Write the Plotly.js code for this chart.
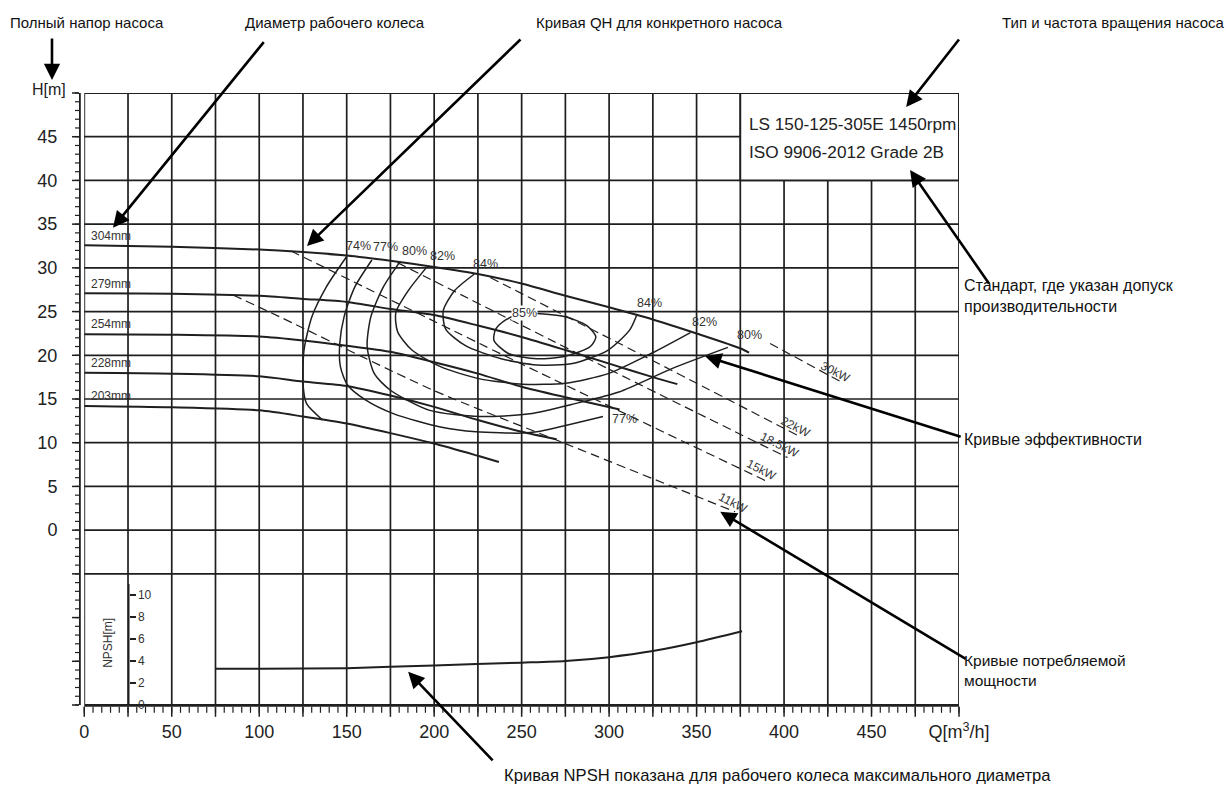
<!DOCTYPE html>
<html><head><meta charset="utf-8">
<script src="https://cdn.plot.ly/plotly-3.0.1.min.js"></script>
<style>
html,body{margin:0;padding:0;background:#fff}#chart{width:1228px;height:793px}
#chart .gridlayer path, #chart .shapelayer path, #chart .xlines-above, #chart .ylines-above, #chart .xtick, #chart .ytick {shape-rendering: geometricPrecision !important;}
</style>
</head><body><div id="chart"></div>
<script>
// ---------- QH curves (Q in m3/h, H in m) ----------
const q304 = [0, 50, 100, 125, 150, 175, 200, 225, 250, 275, 300, 325, 350, 375, 380];
const h304 = [32.6, 32.4, 32.1, 31.8, 31.4, 30.8, 30.1, 29.3, 28.2, 26.8, 25.5, 24.1, 22.5, 20.8, 20.3];
const q279 = [0, 50, 100, 125, 150, 175, 200, 225, 250, 275, 300, 325, 339];
const h279 = [27.1, 27.05, 26.8, 26.45, 26.1, 25.3, 24.6, 23.4, 22.1, 20.6, 19.05, 17.5, 16.7];
const q254 = [0, 50, 100, 125, 150, 175, 200, 225, 250, 275, 306];
const h254 = [22.4, 22.35, 22.15, 21.7, 21.1, 20.4, 19.2, 17.9, 16.4, 15.2, 13.8];
const q228 = [0, 50, 100, 125, 150, 175, 200, 225, 250, 270];
const h228 = [18.0, 17.9, 17.6, 17.0, 16.5, 15.4, 14.1, 12.6, 11.25, 10.4];
const q203 = [0, 50, 100, 125, 150, 175, 200, 225, 237];
const h203 = [14.2, 14.05, 13.7, 13.0, 12.2, 11.1, 9.9, 8.5, 7.8];

const diameterLabels = ['304mm', '279mm', '254mm', '228mm', '203mm'];
const diameterLabelH = [33.6, 28.1, 23.6, 19.1, 15.4];

// ---------- efficiency contours ----------
const eff74q = [150, 138.3, 130.1, 125.6, 125, 127, 136.2];
const eff74h = [31.3, 27.8, 24.4, 20.6, 16.8, 14.5, 12.6];
const eff77q = [164.4, 154.6, 148.5, 146, 146.4, 150.5, 160.7, 177, 203.6, 224, 250.5, 258.7, 296.5];
const eff77h = [30.9, 27.8, 24.4, 21.3, 18.7, 16.6, 14.9, 13.3, 11.8, 11.25, 11.1, 11.25, 13.0];
const eff80q = [180.1, 170.9, 163.8, 161.7, 165.8, 175, 197.5, 226, 254.6, 281.1, 305.6, 336.2, 367.9];
const eff80h = [30.6, 27.8, 24.4, 21.0, 17.9, 16.0, 13.7, 13.0, 13.3, 14.5, 15.8, 18.5, 20.9];
const eff82q = [195.4, 185.2, 178.1, 179.1, 187.3, 203.6, 226, 250.5, 275, 299.5, 324, 346.5];
const eff82h = [30.0, 27.4, 24.9, 22.7, 20.6, 18.7, 17.3, 16.7, 16.8, 17.9, 20.2, 22.6];
const eff84q = [223, 211.7, 205.2, 206.6, 217.9, 238.3, 258.7, 279.1, 299.5, 311.8, 315.8];
const eff84h = [29.3, 27.4, 25.1, 23.0, 21.1, 19.6, 18.9, 19.05, 20.6, 22.9, 24.6];
const eff85q = [255, 260.7, 275, 287.3, 292.4, 289.3, 275, 258.7, 242.4, 234.2, 235.2, 241.3, 248];
const eff85h = [24.8, 24.75, 24.4, 23.4, 22.1, 21.0, 19.9, 19.6, 20.2, 21.7, 23.0, 24.1, 24.7];

const effLabels = ['74%', '77%', '80%', '82%', '84%', '85%', '84%', '82%', '80%', '77%'];
const effLabelQ = [157, 172.4, 188.9, 204.6, 229.5, 251.5, 323, 354.6, 380, 308.7];
const effLabelH = [32.5, 32.4, 31.9, 31.4, 30.4, 24.8, 26.0, 23.8, 22.3, 12.7];

// ---------- power curves (dashed) ----------
const p11q = [85, 111.7, 199.5, 275, 372];
const p11h = [26.9, 24.4, 16.0, 9.9, 2.1];
const p15q = [118, 250, 390];
const p15h = [31.95, 19.0, 5.6];
const p185q = [179, 300, 402];
const p185h = [30.6, 18.4, 8.3];
const p22q = [232, 320, 410];
const p22h = [28.9, 19.9, 10.6];
const p30q = [392, 434];
const p30h = [21.35, 16.8];

const powerLabels = ['30kW', '22kW', '18.5kW', '15kW', '11kW'];
const powerLabelQ = [429.5, 406.7, 397.5, 387.3, 371];
const powerLabelH = [18.1, 11.8, 9.7, 6.9, 3.1];

// ---------- NPSH ----------
const npshQ = [75, 100, 150, 200, 250, 275, 300, 325, 350, 376];
const npshM = [3.3, 3.3, 3.35, 3.6, 3.85, 4.0, 4.35, 4.9, 5.7, 6.7];

// ---------- ticks ----------
const xTickVals = [0, 25, 50, 75, 100, 125, 150, 175, 200, 225, 250, 275, 300, 325, 350, 375, 400, 425, 450, 475, 500];
const xTickText = ['0', '', '50', '', '100', '', '150', '', '200', '', '250', '', '300', '', '350', '', '400', '', '450', '', 'Q[m<sup>3</sup>/h]'];
const yTickVals = [-20, -15, -10, -5, 0, 5, 10, 15, 20, 25, 30, 35, 40, 45, 50];
const yTickText = ['', '', '', '', '0', '5', '10', '15', '20', '25', '30', '35', '40', '45', ''];
const npshTickVals = [0, 2, 4, 6, 8, 10];

const pumpInfo = ['LS 150-125-305E 1450rpm', 'ISO 9906-2012 Grade 2B'];

// ---------- build ----------
const INK = '#1f1f1f';
const traces = [];
function addLine(q, h, width, dash, yaxis) {
  traces.push({
    type: 'scatter', mode: 'lines', x: q, y: h, xaxis: 'x', yaxis: yaxis || 'y',
    line: {color: INK, width: width, dash: dash || 'solid', shape: 'spline', smoothing: 0.7},
    hoverinfo: 'skip'
  });
}
[[q304, h304], [q279, h279], [q254, h254], [q228, h228], [q203, h203]].forEach(p => addLine(p[0], p[1], 2));
[[eff74q, eff74h], [eff77q, eff77h], [eff80q, eff80h], [eff82q, eff82h], [eff84q, eff84h], [eff85q, eff85h]]
  .forEach(p => addLine(p[0], p[1], 1.5));
[[p11q, p11h], [p15q, p15h], [p185q, p185h], [p22q, p22h], [p30q, p30h]]
  .forEach(p => addLine(p[0], p[1], 1.2, '9px,5px'));
addLine(npshQ, npshM, 2, 'solid', 'y2');

const FAM = 'Arial, Liberation Sans, sans-serif';
const ann = [];
const smallFont = {family: FAM, size: 12, color: '#333'};
diameterLabels.forEach((t, i) => ann.push({x: 2.5, y: diameterLabelH[i], xref: 'x', yref: 'y', text: t,
  showarrow: false, xanchor: 'left', yanchor: 'middle', font: smallFont}));
effLabels.forEach((t, i) => ann.push({x: effLabelQ[i], y: effLabelH[i], xref: 'x', yref: 'y', text: t,
  showarrow: false, xanchor: 'center', yanchor: 'middle', font: {family: FAM, size: 12.5, color: '#333'},
  bgcolor: t === '85%' ? '#fff' : 'rgba(0,0,0,0)', borderpad: 0}));
powerLabels.forEach((t, i) => ann.push({x: powerLabelQ[i], y: powerLabelH[i], xref: 'x', yref: 'y', text: t,
  showarrow: false, textangle: 27, xanchor: 'center', yanchor: 'middle', font: smallFont}));
pumpInfo.forEach((t, i) => ann.push({x: 379, y: 46.4 - i * 3.2, xref: 'x', yref: 'y', text: t,
  showarrow: false, xanchor: 'left', yanchor: 'middle', font: {family: FAM, size: 17.2, color: '#222'}}));

// axis label texts
ann.push({x: -0.012, y: 1.006, xref: 'paper', yref: 'paper', text: 'H[m]', showarrow: false,
  xanchor: 'right', yanchor: 'middle', font: {family: FAM, size: 16, color: '#222'}});
ann.push({x: 13.5, y: -12.9, xref: 'x', yref: 'y', text: 'NPSH[m]', showarrow: false, textangle: -90,
  xanchor: 'center', yanchor: 'middle', font: {family: FAM, size: 12, color: '#333'}});

// callout texts
[
  ['Полный напор насоса', -0.0807, 1.116, 15],
  ['Диаметр рабочего колеса', 0.1864, 1.116, 15],
  ['Кривая QH для конкретного насоса', 0.517, 1.116, 15],
  ['Тип и частота вращения насоса', 1.0466, 1.116, 15],
  ['Стандарт, где указан допуск<br>производительности', 1.0034, 0.669, 16],
  ['Кривые эффективности', 1.0034, 0.4346, 16],
  ['Кривые потребляемой<br>мощности', 1.0034, 0.0556, 15.5],
  ['Кривая NPSH показана для рабочего колеса максимального диаметра', 0.4807, -0.116, 16.6]
].forEach(c => ann.push({x: c[1], y: c[2], xref: 'paper', yref: 'paper', text: c[0], showarrow: false,
  xanchor: 'left', yanchor: 'middle', align: 'left', font: {family: FAM, size: c[3], color: '#111'}}));

// callout arrows
const arr = {text: '', showarrow: true, arrowhead: 2, arrowsize: 1.25, arrowwidth: 2.6, arrowcolor: '#000', standoff: 0};
[
  [-0.0307, 1.0212, 'paper', 0, -43],
  [16.4, 34.6, 'x', 152, -187],
  [127.3, 32.5, 'x', 215, -208],
  [469.8, 48.4, 'x', 54, -69],
  [472, 41.2, 'x', 80, 115],
  [354.9, 19.9, 'x', 257, 81],
  [363.5, 2.1, 'x', 247, 148],
  [185.1, -16.2, 'x', 86, 90]
].forEach(a => ann.push(Object.assign({}, arr, {x: a[0], y: a[1], xref: a[2], yref: a[2] === 'x' ? 'y' : 'paper', ax: a[3], ay: a[4]})));

const GRID = '#1e1e1e';
const layout = {
  width: 1228, height: 793,
  margin: {l: 79, r: 269, t: 93, b: 88},
  paper_bgcolor: '#fff', plot_bgcolor: '#fff', showlegend: false,
  font: {family: FAM, color: '#222'},
  xaxis: {
    domain: [0.006, 1], range: [0, 500], anchor: 'y',
    tickmode: 'array', tickvals: xTickVals, ticktext: xTickText,
    showgrid: true, gridcolor: GRID, gridwidth: 1.7, zeroline: false,
    showline: true, linecolor: INK, linewidth: 1.8,
    ticks: 'outside', ticklen: 10, tickwidth: 1.5, tickcolor: INK,
    minor: {tickmode: 'linear', tick0: 0, dtick: 5, ticklen: 6, tickwidth: 1.2, tickcolor: INK, showgrid: false},
    tickfont: {size: 18, color: '#222'}, fixedrange: true
  },
  yaxis: {
    anchor: 'free', position: 0, range: [-20, 50],
    tickmode: 'array', tickvals: yTickVals, ticktext: yTickText,
    showgrid: true, gridcolor: GRID, gridwidth: 1.7, zeroline: false,
    showline: true, linecolor: INK, linewidth: 1.8,
    ticks: 'outside', ticklen: 7, tickwidth: 1.5, tickcolor: INK,
    minor: {tickmode: 'linear', tick0: 0, dtick: 1, ticklen: 4, tickwidth: 1.2, tickcolor: INK, showgrid: false},
    tickfont: {size: 18, color: '#222'}, ticklabelstandoff: 11, fixedrange: true
  },
  yaxis2: {
    anchor: 'free', position: 0.0557, side: 'right', domain: [0, 0.1977], range: [0, 11],
    tickmode: 'array', tickvals: npshTickVals, showgrid: false, zeroline: false,
    showline: true, linecolor: INK, linewidth: 1.5,
    ticks: 'outside', ticklen: 6, tickwidth: 1.2, tickcolor: INK,
    tickfont: {size: 12, color: '#333'}, fixedrange: true
  },
  shapes: [
    {type: 'rect', xref: 'x', yref: 'y', x0: 0.7, x1: 49.3, y0: -19.8, y1: -6.25,
     fillcolor: '#fff', line: {width: 0}, layer: 'between'},
    {type: 'rect', xref: 'x', yref: 'y', x0: 375, x1: 500, y0: 40, y1: 50,
     fillcolor: '#fff', line: {color: INK, width: 1.8}, layer: 'between'},
    {type: 'rect', xref: 'x', yref: 'y', x0: 0, x1: 500, y0: -20, y1: 50,
     line: {color: INK, width: 1.8}, layer: 'above'}
  ],
  annotations: ann
};
Plotly.newPlot('chart', traces, layout, {displayModeBar: false, staticPlot: true});
</script></body></html>
